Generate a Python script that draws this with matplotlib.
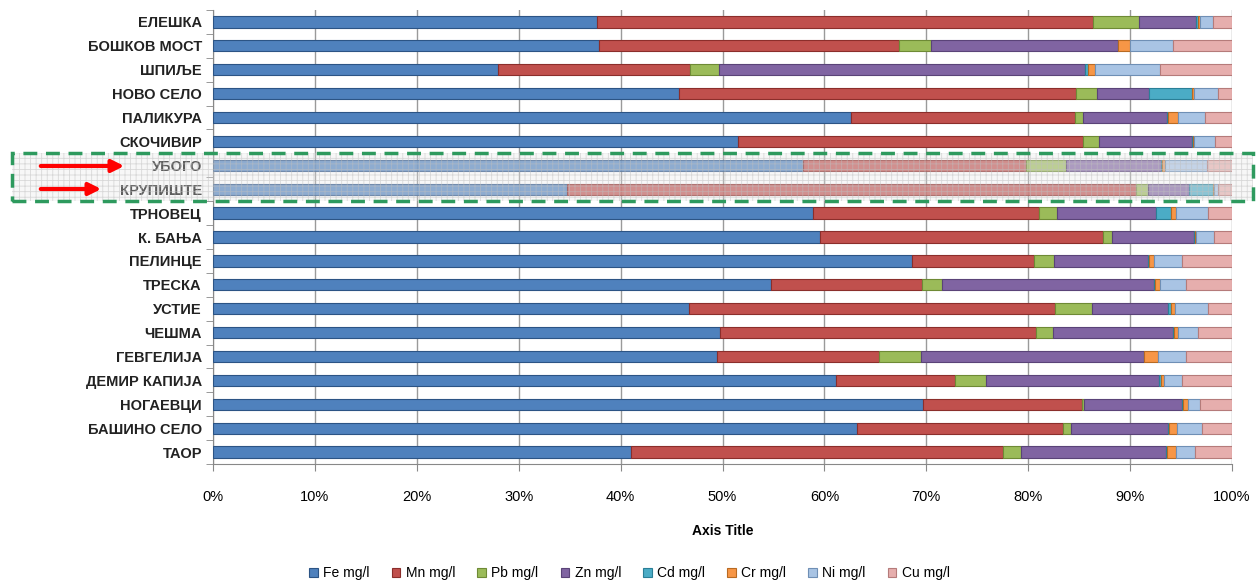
import numpy as np
import matplotlib
matplotlib.use("Agg")
import matplotlib.pyplot as plt
from matplotlib.patches import Rectangle, FancyArrowPatch
from matplotlib.ticker import PercentFormatter

plt.rcParams["font.family"] = ["Liberation Sans Narrow", "Liberation Sans", "DejaVu Sans"]
plt.rcParams["hatch.linewidth"] = 0.6

# sites, top to bottom
sites = [
    "ЕЛЕШКА", "БОШКОВ МОСТ", "ШПИЉЕ", "НОВО СЕЛО", "ПАЛИКУРА", "СКОЧИВИР",
    "УБОГО", "КРУПИШТЕ", "ТРНОВЕЦ", "К. БАЊА", "ПЕЛИНЦЕ", "ТРЕСКА", "УСТИЕ",
    "ЧЕШМА", "ГЕВГЕЛИЈА", "ДЕМИР КАПИЈА", "НОГАЕВЦИ", "БАШИНО СЕЛО", "ТАОР",
]

# share of each metal (%)
fe = [37.7, 37.9, 28.0, 45.7, 62.7, 51.5, 57.9, 34.7, 58.9, 59.6, 68.6, 54.8, 46.7, 49.8, 49.5, 61.1, 69.7, 63.2, 41.0]
mn = [48.7, 29.4, 18.8, 39.0, 22.0, 33.9, 21.9, 55.9, 22.2, 27.7, 12.0, 14.8, 35.9, 31.0, 15.9, 11.7, 15.6, 20.2, 36.5]
pb = [4.5, 3.2, 2.9, 2.1, 0.8, 1.5, 3.9, 1.2, 1.7, 0.9, 1.9, 1.9, 3.7, 1.6, 4.1, 3.1, 0.2, 0.8, 1.8]
zn = [5.6, 18.3, 35.9, 5.1, 8.2, 9.2, 9.3, 4.0, 9.7, 8.1, 9.3, 20.8, 7.4, 11.8, 21.9, 16.9, 9.6, 9.5, 14.2]
cd = [0.2, 0.0, 0.3, 4.2, 0.1, 0.1, 0.1, 2.3, 1.5, 0.1, 0.1, 0.1, 0.3, 0.1, 0.0, 0.2, 0.1, 0.1, 0.1]
cr = [0.2, 1.2, 0.7, 0.2, 1.0, 0.1, 0.3, 0.1, 0.5, 0.1, 0.4, 0.5, 0.4, 0.4, 1.3, 0.3, 0.5, 0.8, 0.9]
ni = [1.2, 4.2, 6.3, 2.3, 2.6, 2.0, 4.1, 0.4, 3.1, 1.7, 2.8, 2.6, 3.2, 2.0, 2.8, 1.8, 1.2, 2.5, 1.9]
cu = [1.9, 5.8, 7.1, 1.4, 2.7, 1.7, 2.5, 1.4, 2.4, 1.8, 4.9, 4.5, 2.4, 3.3, 4.5, 4.9, 3.1, 2.9, 3.6]

series_names = ["Fe mg/l", "Mn mg/l", "Pb mg/l", "Zn mg/l", "Cd mg/l", "Cr mg/l", "Ni mg/l", "Cu mg/l"]
colors = ["#4F81BD", "#C0504D", "#9BBB59", "#8064A2", "#4BACC6", "#F79646", "#A9C4E4", "#E6AEAD"]
edges = ["#2C5485", "#8B2E2B", "#6E8A35", "#5A4378", "#2A7F97", "#B86A22", "#6F8FB5", "#B57B7A"]
highlighted = ["УБОГО", "КРУПИШТЕ"]

data = np.array([fe, mn, pb, zn, cd, cr, ni, cu])
data = data / data.sum(axis=0) * 100

W, H = 1259, 582
fig = plt.figure(figsize=(W / 100, H / 100), dpi=100)
ax = fig.add_axes([213 / W, 1 - 464 / H, (1232 - 213) / W, (464 - 10) / H])

y = np.arange(len(sites))
left = np.zeros(len(sites))
for vals, name, c, ec in zip(data, series_names, colors, edges):
    bars = ax.barh(y, vals, left=left, height=0.47, color=c, edgecolor=ec,
                   linewidth=0.8, label=name, zorder=3)
    for b, s in zip(bars, sites):
        if s in highlighted:
            b.set_alpha(0.85)
    left += vals

ax.set_xlim(0, 100)
ax.set_ylim(len(sites) - 0.5, -0.5)
ax.set_yticks(y)
ax.set_yticklabels(sites, fontsize=10.5, fontweight="bold", color="#222222")
ax.set_yticks(np.arange(-0.5, len(sites), 1), minor=True)
ax.tick_params(axis="y", which="major", length=0, pad=8)
ax.tick_params(axis="y", which="minor", length=5, color="#888888")
ax.set_xticks(np.arange(0, 101, 10))
ax.xaxis.set_major_formatter(PercentFormatter(decimals=0))
ax.tick_params(axis="x", length=5, color="#888888", labelsize=10.5, pad=14)
ax.grid(axis="x", color="#9a9a9a", linewidth=1, zorder=0)
for side in ["top", "right"]:
    ax.spines[side].set_visible(False)
for side in ["left", "bottom"]:
    ax.spines[side].set_color("#888888")
ax.set_xlabel("Axis Title", fontsize=10, fontweight="bold", labelpad=14)

fig.legend(loc="center", bbox_to_anchor=(0.5, 1 - 573 / H), ncol=8, frameon=False,
           fontsize=10, handlelength=0.6, handleheight=0.6, columnspacing=1.6,
           handletextpad=0.4)

# highlighted box with arrows
x0, y0, x1, y1 = 12, 153, 1253, 201
shade = Rectangle((x0 / W, 1 - y1 / H), (x1 - x0) / W, (y1 - y0) / H,
                  transform=fig.transFigure, facecolor=(0.9, 0.9, 0.9, 0.3),
                  edgecolor=(0.75, 0.75, 0.75, 0.55), hatch="+++", linewidth=0, zorder=10)
fig.add_artist(shade)
border = Rectangle((x0 / W, 1 - y1 / H), (x1 - x0) / W, (y1 - y0) / H,
                   transform=fig.transFigure, facecolor="none", edgecolor="#2E9A5E",
                   linestyle=(0, (4, 2.5)), linewidth=2.5, zorder=11)
fig.add_artist(border)
for ya, xb in [(166, 127), (189, 104)]:
    arr = FancyArrowPatch((38 / W, 1 - ya / H), (xb / W, 1 - ya / H),
                          transform=fig.transFigure, arrowstyle="-|>",
                          mutation_scale=18, color="red", linewidth=3, zorder=12)
    fig.add_artist(arr)

fig.savefig("out.png", dpi=100)
